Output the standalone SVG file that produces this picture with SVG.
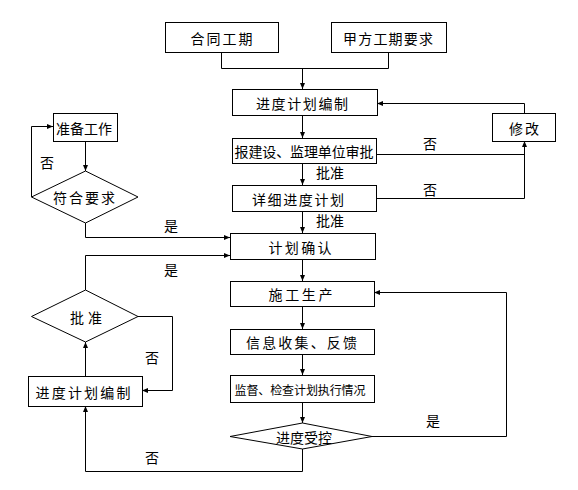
<svg xmlns="http://www.w3.org/2000/svg" width="578" height="490" viewBox="0 0 578 490">
<style>
.b{fill:#fff;stroke:#000;stroke-width:1}
.c{fill:none;stroke:#000;stroke-width:1}
text{font-family:"Noto Sans CJK SC","Noto Sans",sans-serif;font-size:14px;fill:#000;text-anchor:middle;dominant-baseline:central}
.s{font-size:12px}
</style>
<defs>
<marker id="a" markerUnits="userSpaceOnUse" markerWidth="6" markerHeight="5" refX="6" refY="2.5" orient="auto">
<path d="M0,0 L6,2.5 L0,5 z" fill="#000"/>
</marker>
</defs>
<rect width="578" height="490" fill="#fff"/>
<g id="connectors">
<polyline class="c" points="221.5,52 221.5,68.5 388.5,68.5 388.5,52"/>
<line class="c" x1="302.5" y1="68.5" x2="302.5" y2="89" marker-end="url(#a)"/>
<polyline class="c" points="524.5,113 524.5,103.5 377,103.5" marker-end="url(#a)"/>
<line class="c" x1="302.5" y1="115" x2="302.5" y2="138" marker-end="url(#a)"/>
<line class="c" x1="376" y1="154.5" x2="524.5" y2="154.5"/>
<polyline class="c" points="376,198.5 524.5,198.5 524.5,141" marker-end="url(#a)"/>
<line class="c" x1="302.5" y1="163" x2="302.5" y2="185" marker-end="url(#a)"/>
<line class="c" x1="302.5" y1="211" x2="302.5" y2="233" marker-end="url(#a)"/>
<line class="c" x1="85.5" y1="141" x2="85.5" y2="171" marker-end="url(#a)"/>
<polyline class="c" points="31.5,197 31.5,126.5 53,126.5" marker-end="url(#a)"/>
<polyline class="c" points="85.5,223 85.5,237.5 230,237.5" marker-end="url(#a)"/>
<polyline class="c" points="85.5,290 85.5,255.5 230,255.5" marker-end="url(#a)"/>
<line class="c" x1="302.5" y1="259" x2="302.5" y2="281" marker-end="url(#a)"/>
<line class="c" x1="302.5" y1="306" x2="302.5" y2="329" marker-end="url(#a)"/>
<line class="c" x1="302.5" y1="354" x2="302.5" y2="375" marker-end="url(#a)"/>
<line class="c" x1="302.5" y1="402" x2="302.5" y2="423" marker-end="url(#a)"/>
<polyline class="c" points="372,436.5 506.5,436.5 506.5,292.5 374,292.5" marker-end="url(#a)"/>
<polyline class="c" points="302.5,449 302.5,471.5 85.5,471.5 85.5,406" marker-end="url(#a)"/>
<polyline class="c" points="138,316.5 172.5,316.5 172.5,390.5 142,390.5" marker-end="url(#a)"/>
<line class="c" x1="85.5" y1="376" x2="85.5" y2="342" marker-end="url(#a)"/>
<text x="430" y="143">否</text>
<text x="430" y="189">否</text>
<text x="330" y="172">批准</text>
<text x="330" y="220">批准</text>
<text x="171" y="225">是</text>
<text x="171" y="269">是</text>
<text x="47" y="162">否</text>
<text x="152" y="357">否</text>
<text x="433" y="420">是</text>
<text x="152" y="457">否</text>
</g>
<g id="n1"><rect class="b" x="165.5" y="22.5" width="113" height="30"/><text x="221.5" y="37.5" textLength="62" lengthAdjust="spacing">合同工期</text></g>
<g id="n2"><rect class="b" x="331.5" y="22.5" width="115" height="30"/><text x="388" y="37.5" textLength="90" lengthAdjust="spacing">甲方工期要求</text></g>
<g id="n3"><rect class="b" x="232.5" y="89.5" width="145" height="26"/><text x="302" y="102.5" textLength="92" lengthAdjust="spacing">进度计划编制</text></g>
<g id="n4"><rect class="b" x="492.5" y="113.5" width="63" height="28"/><text x="524" y="127.5" textLength="30" lengthAdjust="spacing">修改</text></g>
<g id="n5"><rect class="b" x="53.5" y="113.5" width="64" height="28"/><text x="84" y="127.5" textLength="56" lengthAdjust="spacing">准备工作</text></g>
<g id="n6"><polygon class="b" points="31.5,197 85.5,171 138,197 85.5,223"/><text x="84" y="197" textLength="62" lengthAdjust="spacing">符合要求</text></g>
<g id="n7"><rect class="b" x="232.5" y="138.5" width="144" height="25"/><text x="304" y="151" textLength="139" lengthAdjust="spacing">报建设、监理单位审批</text></g>
<g id="n8"><rect class="b" x="232.5" y="185.5" width="144" height="26"/><text x="298" y="198.5" textLength="92" lengthAdjust="spacing">详细进度计划</text></g>
<g id="n9"><rect class="b" x="230.5" y="233.5" width="145" height="26"/><text x="300" y="246.5" textLength="63" lengthAdjust="spacing">计划确认</text></g>
<g id="n10"><rect class="b" x="230.5" y="281.5" width="144" height="25"/><text x="300.5" y="294" textLength="64" lengthAdjust="spacing">施工生产</text></g>
<g id="n11"><rect class="b" x="230.5" y="329.5" width="144" height="25"/><text x="301.5" y="342" textLength="111" lengthAdjust="spacing">信息收集、反馈</text></g>
<g id="n12"><rect class="b" x="230.5" y="375.5" width="144" height="27"/><text class="s" x="300" y="389" textLength="131" lengthAdjust="spacing">监督、检查计划执行情况</text></g>
<g id="n13"><polygon class="b" points="230,436.5 302.5,423 372,436.5 302.5,449"/><text x="304" y="436.5" textLength="56" lengthAdjust="spacing">进度受控</text></g>
<g id="n14"><polygon class="b" points="31.5,316.5 85.5,290 138,316.5 85.5,342"/><text x="86" y="316.5" textLength="32" lengthAdjust="spacing">批准</text></g>
<g id="n15"><rect class="b" x="28.5" y="376.5" width="114" height="30"/><text x="83" y="391.5" textLength="95" lengthAdjust="spacing">进度计划编制</text></g>
</svg>
